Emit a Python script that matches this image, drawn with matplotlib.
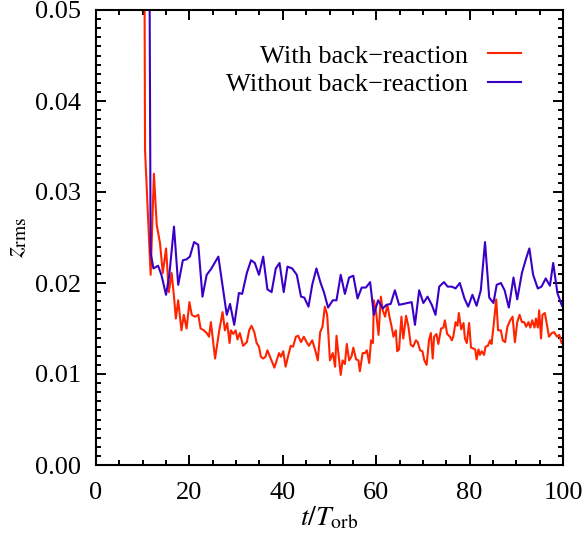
import matplotlib
matplotlib.use("Agg")
import matplotlib.pyplot as plt
from matplotlib.ticker import MultipleLocator

plt.rcParams['font.family'] = ['Liberation Serif', 'DejaVu Serif']
plt.rcParams['mathtext.fontset'] = 'stix'

# con back-reaction (rojo)
red_t = [10.0, 10.5, 11.7, 12.4, 13.0, 13.7, 14.3, 15.0, 15.6, 16.2,
         16.7, 17.1, 17.6, 18.3, 18.8, 19.4, 20.0, 20.5, 21.2, 21.9,
         22.4, 23.1, 23.7, 24.2, 24.6, 25.5, 26.4, 27.1, 27.6, 28.1,
         28.6, 28.9, 29.4, 29.9, 30.3, 30.8, 31.5, 32.3, 32.8, 33.3,
         33.9, 34.4, 34.9, 35.3, 35.8, 36.3, 36.7, 37.1, 37.6, 38.2,
         38.7, 39.2, 39.6, 40.1, 40.6, 41.2, 41.7, 42.2, 42.8, 43.3,
         43.9, 44.5, 45.1, 45.6, 46.3, 46.9, 47.5, 48.0, 48.5, 49.0,
         49.5, 50.1, 50.7, 51.2, 51.5, 51.9, 52.4, 52.8, 53.3, 53.7,
         54.2, 54.7, 55.1, 55.7, 56.2, 56.5, 57.1, 57.6, 58.0, 58.5,
         58.9, 59.3, 59.5, 60.0, 60.5, 61.0, 61.4, 61.9, 62.4, 62.8,
         63.3, 63.7, 64.2, 64.5, 64.9, 65.4, 65.8, 66.4, 66.9, 67.4,
         67.9, 68.5, 68.9, 69.4, 69.9, 70.3, 70.8, 71.3, 71.7, 72.1,
         72.4, 72.9, 73.3, 73.9, 74.4, 74.7, 75.2, 75.8, 76.2, 76.5,
         77.0, 77.4, 77.7, 78.2, 78.7, 79.0, 79.4, 79.9, 80.3, 80.8,
         81.2, 81.5, 81.9, 82.2, 82.6, 83.1, 83.4, 83.9, 84.4, 84.7,
         85.2, 85.7, 86.1, 86.7, 87.1, 87.6, 88.1, 88.7, 89.2, 89.7,
         90.2, 90.7, 91.2, 91.7, 92.1, 92.6, 93.0, 93.4, 93.9, 94.2,
         94.6, 94.9, 95.3, 95.6, 96.1, 96.5, 97.0, 97.6, 98.1, 98.7,
         99.2, 99.7, 100.0]
red_z = [0.120, 0.0346, 0.0209, 0.0320, 0.0264, 0.0244, 0.0211, 0.0238, 0.0190, 0.0211,
         0.0185, 0.0161, 0.0181, 0.0148, 0.0165, 0.0150, 0.0179, 0.0165, 0.0163, 0.0165,
         0.0150, 0.0148, 0.0145, 0.0141, 0.0157, 0.0117, 0.0148, 0.0168, 0.0148, 0.0156,
         0.0134, 0.0148, 0.0144, 0.0148, 0.0138, 0.0145, 0.0131, 0.0135, 0.0148, 0.0153,
         0.0146, 0.0134, 0.0130, 0.0119, 0.0117, 0.0119, 0.0126, 0.0121, 0.0115, 0.0107,
         0.0115, 0.0123, 0.0119, 0.0125, 0.0108, 0.0121, 0.0131, 0.0130, 0.0141, 0.0142,
         0.0135, 0.0141, 0.0135, 0.0131, 0.0137, 0.0127, 0.0115, 0.0146, 0.0152, 0.0174,
         0.0165, 0.0115, 0.0123, 0.0108, 0.0142, 0.0123, 0.0099, 0.0115, 0.0111, 0.0133,
         0.0115, 0.0119, 0.0129, 0.0116, 0.0115, 0.0103, 0.0123, 0.0123, 0.0126, 0.0112,
         0.0137, 0.0134, 0.0181, 0.0167, 0.0143, 0.0185, 0.0170, 0.0163, 0.0176, 0.0164,
         0.0152, 0.0141, 0.0148, 0.0125, 0.0127, 0.0163, 0.0139, 0.0164, 0.0152, 0.0132,
         0.0130, 0.0137, 0.0135, 0.0126, 0.0125, 0.0115, 0.0110, 0.0137, 0.0145, 0.0117,
         0.0141, 0.0144, 0.0133, 0.0150, 0.0151, 0.0159, 0.0144, 0.0141, 0.0137, 0.0141,
         0.0157, 0.0153, 0.0167, 0.0149, 0.0156, 0.0139, 0.0134, 0.0156, 0.0129, 0.0128,
         0.0127, 0.0116, 0.0127, 0.0121, 0.0125, 0.0121, 0.0130, 0.0131, 0.0137, 0.0133,
         0.0156, 0.0182, 0.0148, 0.0148, 0.0137, 0.0135, 0.0152, 0.0159, 0.0163, 0.0135,
         0.0157, 0.0165, 0.0157, 0.0157, 0.0152, 0.0157, 0.0151, 0.0159, 0.0151, 0.0161,
         0.0151, 0.0170, 0.0139, 0.0165, 0.0167, 0.0156, 0.0141, 0.0145, 0.0146, 0.0141,
         0.0143, 0.0134, 0.0133]

# sin back-reaction (azul)
blue_t = [11.1, 11.7, 12.3, 13.3, 14.0, 15.0, 15.7, 16.7, 17.6, 18.6,
          19.4, 20.1, 21.0, 21.9, 22.8, 23.7, 24.6, 25.4, 26.2, 28.0,
          28.7, 29.6, 30.6, 31.3, 32.3, 33.2, 34.0, 34.9, 35.8, 36.7,
          37.6, 38.5, 39.3, 40.2, 41.0, 42.0, 43.0, 43.9, 44.6, 45.5,
          46.3, 47.2, 48.1, 48.8, 49.7, 50.7, 51.5, 52.4, 53.3, 54.2,
          55.1, 56.0, 56.9, 57.8, 58.7, 59.5, 60.4, 61.4, 62.2, 63.1,
          64.0, 64.9, 65.8, 66.7, 67.6, 68.3, 69.2, 70.1, 71.0, 71.9,
          72.7, 73.5, 74.5, 75.3, 76.2, 77.0, 77.9, 78.9, 79.7, 80.6,
          81.5, 82.4, 83.3, 84.2, 85.1, 85.8, 86.7, 87.5, 88.4, 89.4,
          90.2, 91.2, 92.1, 92.8, 93.6, 94.6, 95.4, 96.3, 97.2, 97.9,
          98.8, 99.7, 100.0]
blue_z = [0.100, 0.0233, 0.0216, 0.0219, 0.0209, 0.0187, 0.0209, 0.0262, 0.0198, 0.0225,
          0.0226, 0.0229, 0.0245, 0.0242, 0.0185, 0.0209, 0.0215, 0.0222, 0.0229, 0.0165,
          0.0177, 0.0154, 0.0189, 0.0188, 0.0211, 0.0225, 0.0222, 0.0209, 0.0229, 0.0193,
          0.0190, 0.0216, 0.0222, 0.0190, 0.0218, 0.0216, 0.0209, 0.0185, 0.0184, 0.0174,
          0.0198, 0.0216, 0.0200, 0.0190, 0.0173, 0.0181, 0.0181, 0.0209, 0.0188, 0.0206,
          0.0208, 0.0183, 0.0195, 0.0195, 0.0201, 0.0165, 0.0181, 0.0172, 0.0176, 0.0177,
          0.0192, 0.0176, 0.0177, 0.0178, 0.0179, 0.0154, 0.0192, 0.0178, 0.0185, 0.0176,
          0.0165, 0.0196, 0.0201, 0.0196, 0.0196, 0.0194, 0.0200, 0.0183, 0.0174, 0.0187,
          0.0175, 0.0192, 0.0245, 0.0184, 0.0178, 0.0198, 0.0200, 0.0192, 0.0173, 0.0206,
          0.0182, 0.0211, 0.0227, 0.0238, 0.0209, 0.0194, 0.0196, 0.0205, 0.0197, 0.0222,
          0.0189, 0.0176, 0.0173]

fig = plt.figure(figsize=(5.83, 5.34), dpi=100)
ax = fig.add_axes([96 / 583, 69 / 534, 467 / 583, 455 / 534])

ax.plot(red_t, red_z, color='#ff2400', lw=1.5, label='With back\u2212reaction')
ax.plot(blue_t, blue_z, color='#3a00c8', lw=1.5, label='Without back\u2212reaction')

ax.set_xlim(0, 100)
ax.set_ylim(0, 0.05)
ax.xaxis.set_major_locator(MultipleLocator(20))
ax.xaxis.set_minor_locator(MultipleLocator(5))
ax.yaxis.set_major_locator(MultipleLocator(0.01))
ax.yaxis.set_minor_locator(MultipleLocator(0.001))
ax.yaxis.set_major_formatter(plt.FormatStrFormatter('%.2f'))

ax.tick_params(which='both', direction='in', top=True, right=True, labelsize=19, width=1.4)
ax.tick_params(which='major', length=7)
ax.tick_params(which='minor', length=3.5)
ax.tick_params(axis='x', which='major', pad=12)
ax.tick_params(axis='y', which='major', pad=11)
for s in ax.spines.values():
    s.set_linewidth(1.5)

ax.set_xlabel(r'$t/T_{\rm orb}$', fontsize=20, labelpad=1)
ax.set_ylabel(r'$z_{\rm rms}$', fontsize=20, labelpad=4)

ax.legend(loc='upper right', bbox_to_anchor=(0.91, 0.925), frameon=False, markerfirst=False,
          fontsize=19, handlelength=1.25, handletextpad=0.75, borderpad=0, borderaxespad=0,
          labelspacing=0.2)

plt.savefig('out.png', dpi=100)
